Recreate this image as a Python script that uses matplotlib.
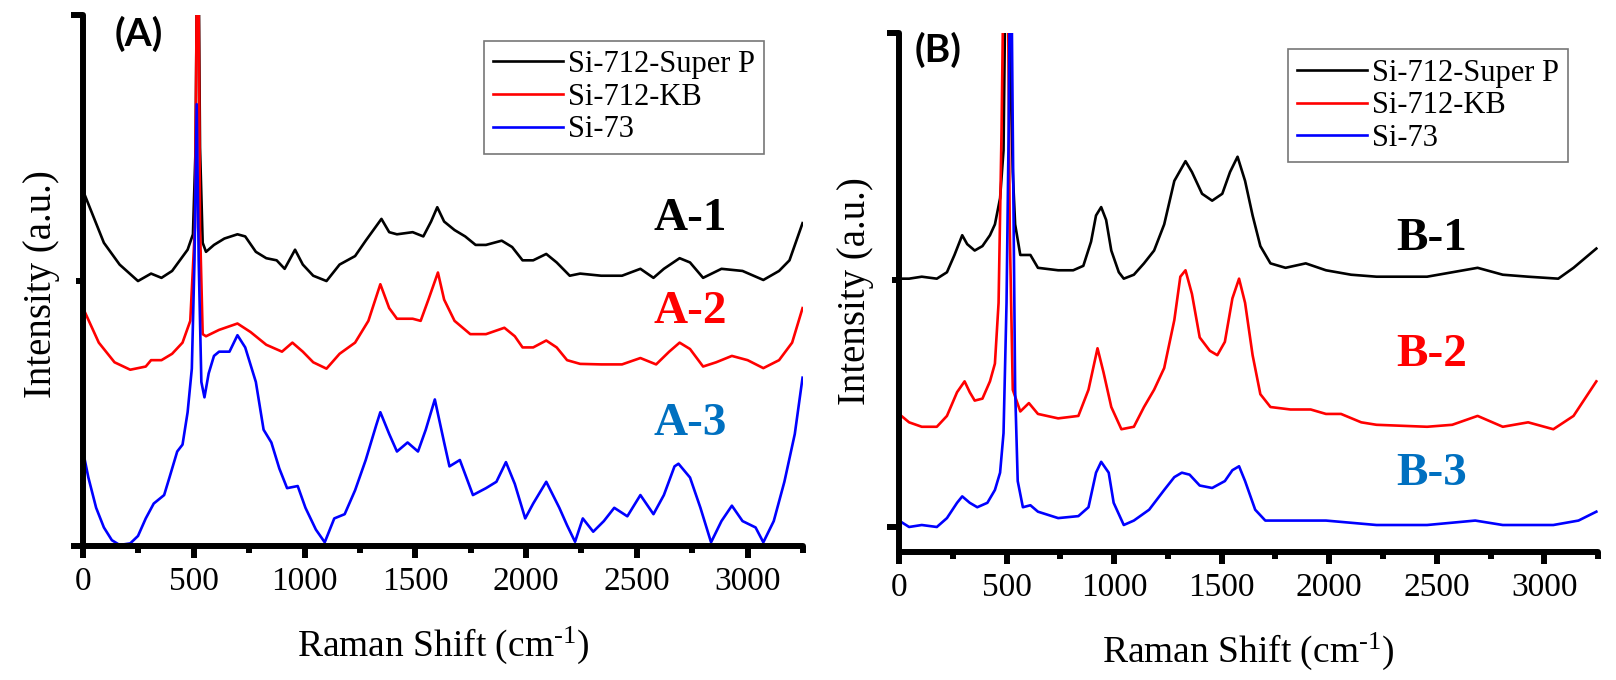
import matplotlib
matplotlib.use("Agg")
import matplotlib.pyplot as plt
from matplotlib.ticker import MultipleLocator

# ------------------------- data -------------------------
series_names = ["Si-712-Super P", "Si-712-KB", "Si-73"]
series_colors = ["#000000", "#ff0000", "#0000ff"]

# panel A
a1_x = [0, 94, 165, 248, 307, 354, 402, 437, 472, 496, 508, 518, 528, 540, 555, 591, 638, 697, 732, 780,
        827, 874, 910, 957, 992, 1039, 1099, 1158, 1228, 1276, 1347, 1382, 1417, 1488, 1536, 1571, 1599, 1630, 1677, 1725,
        1772, 1819, 1890, 1937, 1984, 2032, 2091, 2138, 2197, 2244, 2339, 2433, 2516, 2575, 2622, 2693, 2740, 2799, 2882, 2977,
        3071, 3142, 3189, 3248]
a1_y = [0.669, 0.571, 0.530, 0.499, 0.513, 0.505, 0.518, 0.538, 0.558, 0.587, 0.75, 1.3, 0.75, 0.571, 0.554, 0.567, 0.579, 0.587, 0.583, 0.554,
        0.542, 0.538, 0.522, 0.558, 0.530, 0.509, 0.499, 0.530, 0.546, 0.575, 0.616, 0.591, 0.587, 0.591, 0.583, 0.611, 0.638, 0.611, 0.595, 0.583,
        0.567, 0.567, 0.575, 0.563, 0.538, 0.538, 0.550, 0.534, 0.509, 0.513, 0.509, 0.509, 0.522, 0.505, 0.522, 0.542, 0.534, 0.505, 0.522, 0.518,
        0.501, 0.518, 0.538, 0.608]

a2_x = [0, 71, 142, 213, 283, 307, 354, 402, 449, 484, 505, 518, 528, 540, 555, 614, 697, 756, 827, 898,
        945, 992, 1039, 1099, 1158, 1228, 1288, 1342, 1382, 1417, 1488, 1524, 1559, 1602, 1630, 1677, 1748, 1819, 1902, 1949,
        1984, 2032, 2091, 2138, 2185, 2244, 2339, 2433, 2516, 2587, 2646, 2693, 2740, 2799, 2858, 2929, 3000, 3071, 3142, 3201,
        3248]
a2_y = [0.448, 0.383, 0.346, 0.332, 0.338, 0.350, 0.350, 0.362, 0.383, 0.424, 0.60, 1.3, 0.6, 0.399, 0.395, 0.407, 0.419, 0.403, 0.379, 0.366,
        0.383, 0.366, 0.346, 0.334, 0.362, 0.383, 0.424, 0.493, 0.448, 0.428, 0.428, 0.424, 0.464, 0.515, 0.464, 0.424, 0.399, 0.399, 0.411, 0.395,
        0.374, 0.374, 0.387, 0.374, 0.350, 0.343, 0.342, 0.342, 0.354, 0.342, 0.366, 0.383, 0.371, 0.338, 0.346, 0.358, 0.350, 0.335, 0.350, 0.383,
        0.448]

a3_x = [0, 24, 59, 94, 130, 165, 213, 248, 283, 319, 366, 390, 425, 449, 472, 491, 503, 513, 522, 534,
        548, 567, 591, 614, 661, 697, 732, 780, 815, 850, 886, 921, 969, 1004, 1051, 1091, 1134, 1181, 1228, 1276,
        1323, 1342, 1382, 1417, 1465, 1512, 1547, 1588, 1630, 1654, 1701, 1760, 1819, 1866, 1909, 1949, 1996, 2032, 2091, 2150,
        2185, 2221, 2256, 2303, 2351, 2398, 2457, 2516, 2575, 2622, 2670, 2688, 2740, 2787, 2835, 2882, 2929, 2977, 3036, 3071,
        3118, 3166, 3213, 3248]
a3_y = [0.178, 0.129, 0.072, 0.035, 0.011, 0.002, 0.005, 0.019, 0.052, 0.080, 0.096, 0.129, 0.178, 0.191, 0.252, 0.334, 0.538, 0.832, 0.538, 0.309,
        0.280, 0.325, 0.358, 0.366, 0.366, 0.397, 0.374, 0.309, 0.219, 0.195, 0.146, 0.109, 0.113, 0.072, 0.031, 0.007, 0.052, 0.060, 0.105, 0.162,
        0.227, 0.252, 0.211, 0.178, 0.195, 0.178, 0.219, 0.276, 0.195, 0.150, 0.162, 0.096, 0.109, 0.121, 0.158, 0.117, 0.052, 0.080, 0.121, 0.072,
        0.039, 0.008, 0.052, 0.027, 0.047, 0.072, 0.056, 0.096, 0.060, 0.096, 0.150, 0.155, 0.129, 0.072, 0.007, 0.047, 0.076, 0.047, 0.035, 0.007,
        0.047, 0.121, 0.211, 0.317]

# panel B
b1_x = [0, 47, 106, 176, 223, 258, 294, 317, 352, 388, 423, 446, 470, 486, 500, 514, 529, 540, 564, 611,
        646, 740, 810, 857, 893, 916, 940, 963, 987, 1022, 1045, 1092, 1139, 1186, 1233, 1280, 1332, 1362, 1409, 1456,
        1503, 1539, 1574, 1609, 1644, 1680, 1727, 1797, 1891, 1985, 2102, 2220, 2455, 2690, 2807, 2925, 3065, 3136, 3242]
b1_y = [0.503, 0.503, 0.507, 0.503, 0.516, 0.551, 0.591, 0.573, 0.560, 0.569, 0.591, 0.613, 0.666, 0.763, 1.3, 1.0, 0.719, 0.613, 0.551, 0.551,
        0.525, 0.520, 0.520, 0.529, 0.578, 0.631, 0.648, 0.622, 0.560, 0.516, 0.503, 0.511, 0.534, 0.560, 0.613, 0.701, 0.741, 0.719, 0.675, 0.661,
        0.675, 0.719, 0.750, 0.701, 0.631, 0.569, 0.534, 0.525, 0.534, 0.520, 0.511, 0.507, 0.507, 0.525, 0.511, 0.507, 0.503, 0.525, 0.564]

b2_x = [0, 47, 106, 176, 223, 270, 305, 329, 352, 388, 423, 446, 463, 477, 491, 503, 515, 529, 564, 604,
        646, 740, 834, 881, 923, 951, 987, 1034, 1092, 1139, 1186, 1233, 1280, 1308, 1332, 1362, 1398, 1445, 1480, 1515,
        1550, 1581, 1609, 1644, 1680, 1727, 1820, 1914, 1985, 2055, 2149, 2220, 2455, 2572, 2690, 2807, 2925, 3042, 3136, 3242]
b2_y = [0.229, 0.212, 0.203, 0.203, 0.225, 0.273, 0.295, 0.273, 0.256, 0.260, 0.295, 0.331, 0.454, 0.807, 1.3, 1.3, 0.6, 0.278, 0.234, 0.251,
        0.229, 0.220, 0.225, 0.278, 0.362, 0.313, 0.243, 0.198, 0.203, 0.243, 0.278, 0.322, 0.419, 0.507, 0.520, 0.472, 0.384, 0.357, 0.348, 0.375,
        0.463, 0.503, 0.454, 0.348, 0.269, 0.243, 0.238, 0.238, 0.229, 0.229, 0.212, 0.207, 0.203, 0.207, 0.225, 0.203, 0.212, 0.198, 0.225, 0.295]

b3_x = [0, 47, 106, 176, 223, 270, 294, 329, 364, 411, 446, 470, 486, 500, 510, 519, 529, 540, 552, 576,
        611, 646, 740, 834, 881, 916, 940, 975, 998, 1045, 1092, 1163, 1233, 1280, 1315, 1351, 1398, 1456, 1515, 1550,
        1581, 1609, 1656, 1703, 1856, 1985, 2220, 2455, 2679, 2807, 3042, 3159, 3242]
b3_y = [0.013, 0.0, 0.004, 0.0, 0.018, 0.049, 0.062, 0.049, 0.040, 0.049, 0.075, 0.110, 0.190, 0.454, 0.807, 1.3, 0.807, 0.278, 0.093, 0.040,
        0.044, 0.031, 0.018, 0.022, 0.040, 0.110, 0.132, 0.110, 0.049, 0.004, 0.013, 0.035, 0.075, 0.101, 0.110, 0.106, 0.084, 0.079, 0.093, 0.115,
        0.123, 0.093, 0.035, 0.013, 0.013, 0.013, 0.004, 0.004, 0.013, 0.004, 0.004, 0.013, 0.031]

curve_tags_a = ["A-1", "A-2", "A-3"]
curve_tags_b = ["B-1", "B-2", "B-3"]
tag_colors = ["#000000", "#ff0000", "#0070c0"]
tag_y_a = [0.615, 0.440, 0.229]
tag_y_b = [0.583, 0.348, 0.108]

SERIF = ["Liberation Serif", "DejaVu Serif"]
SANS = ["Lato", "Open Sans", "DejaVu Sans"]

plt.rcParams["mathtext.fontset"] = "custom"
plt.rcParams["mathtext.rm"] = "Liberation Serif"
plt.rcParams["mathtext.it"] = "Liberation Serif:italic"

fig = plt.figure(figsize=(16.16, 6.8), dpi=100)
axA = fig.add_axes([0.0514, 0.197, 0.4455, 0.781])
axB = fig.add_axes([0.5563, 0.188, 0.4326, 0.763])


def style_axis(ax, ylim, label_xy):
    ax.set_xlim(0, 3250)
    ax.set_ylim(*ylim)
    for side in ["top", "right"]:
        ax.spines[side].set_visible(False)
    for side in ["left", "bottom"]:
        ax.spines[side].set_linewidth(4.3)
        ax.spines[side].set_capstyle("round")
    ax.xaxis.set_major_locator(MultipleLocator(500))
    ax.xaxis.set_minor_locator(MultipleLocator(250))
    ax.set_yticks([0, 1.0])
    ax.set_yticks([0.5], minor=True)
    ax.set_yticklabels([])
    ax.tick_params(axis="both", which="major", direction="out", length=8.5, width=4.3)
    ax.tick_params(axis="both", which="minor", direction="out", length=5, width=4.3)
    ax.tick_params(axis="x", which="major", labelsize=24, pad=6)
    for lab in ax.get_xticklabels():
        lab.set_fontfamily(SERIF)
    ax.set_xlabel(r"Raman Shift (cm$^{\text{-1}}$)", fontsize=27, fontfamily=SERIF, labelpad=20)
    ax.set_ylabel("Intensity (a.u.)", fontsize=28, fontfamily=SERIF)
    ax.yaxis.set_label_coords(*label_xy)


for xs, ys, name, col in zip([a1_x, a2_x, a3_x], [a1_y, a2_y, a3_y], series_names, series_colors):
    axA.plot(xs, ys, color=col, lw=1.9, label=name)
for xs, ys, name, col in zip([b1_x, b2_x, b3_x], [b1_y, b2_y, b3_y], series_names, series_colors):
    axB.plot(xs, ys, color=col, lw=1.9, label=name)

style_axis(axA, (0, 1.0), (-0.032, 0.493))
style_axis(axB, (-0.051, 1.0), (-0.036, 0.503))

for ax, anchor in [(axA, (0.946, 0.951)), (axB, (0.957, 0.969))]:
    leg = ax.legend(loc="upper right", bbox_to_anchor=anchor, prop={"family": SERIF, "size": 22},
                    frameon=True, fancybox=False, edgecolor="#777777", framealpha=1,
                    handlelength=2.3, handletextpad=0.15, labelspacing=0.12, borderpad=0.3,
                    borderaxespad=0)
    leg.get_frame().set_linewidth(1.2)

for tag, ty, col in zip(curve_tags_a, tag_y_a, tag_colors):
    axA.text(2740, ty, tag, color=col, fontsize=34, fontweight="bold", fontfamily=SERIF,
             ha="center", va="center")
for tag, ty, col in zip(curve_tags_b, tag_y_b, tag_colors):
    axB.text(2478, ty, tag, color=col, fontsize=34, fontweight="bold", fontfamily=SERIF,
             ha="center", va="center")

fig.text(0.0860, 0.950, "(A)", fontsize=28, fontweight="bold", fontfamily=SANS, ha="center", va="center")
fig.text(0.5805, 0.926, "(B)", fontsize=28, fontweight="bold", fontfamily=SANS, ha="center", va="center")

fig.savefig("out.png", dpi=100)
